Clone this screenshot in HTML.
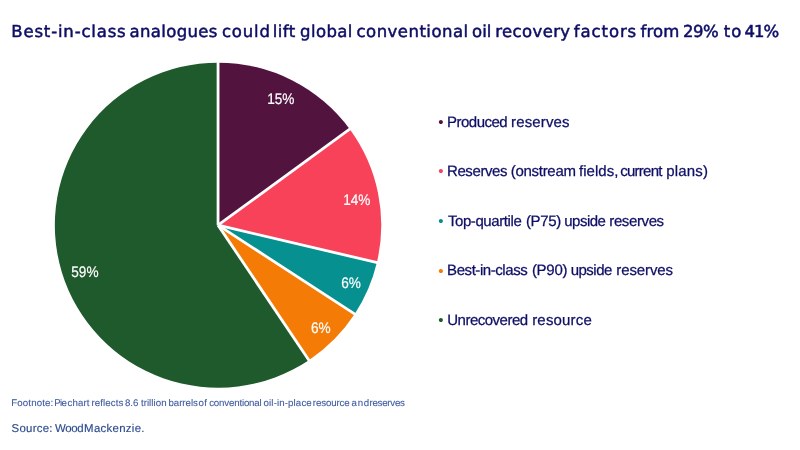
<!DOCTYPE html>
<html><head><meta charset="utf-8"><title>Pie</title>
<style>
html,body{margin:0;padding:0;background:#fff;}
body{width:800px;height:450px;position:relative;overflow:hidden;font-family:"Liberation Sans",sans-serif;}
svg{position:absolute;left:0;top:0;}
text{text-rendering:geometricPrecision;}
.title{font-family:"DejaVu Sans","Liberation Sans",sans-serif;font-size:16.5px;fill:#0e0e66;stroke:#0e0e66;stroke-width:0.5px;}
.lbl{font-family:"Liberation Sans",sans-serif;font-size:15.3px;fill:#fff;stroke:#fff;stroke-width:0.2px;text-anchor:middle;}
.leg{font-family:"Liberation Sans",sans-serif;font-size:15px;fill:#0e0e66;stroke:#0e0e66;stroke-width:0.25px;}
.bul{stroke:none;}
.foot{font-family:"Liberation Sans",sans-serif;font-size:9.7px;fill:#3f5c9e;stroke:#3f5c9e;stroke-width:0.1px;}
.src{font-family:"Liberation Sans",sans-serif;font-size:11.4px;fill:#2c4a8e;stroke:#2c4a8e;stroke-width:0.15px;}
</style></head><body>
<svg width="800" height="450" viewBox="0 0 800 450">
<text class="title" y="37"><tspan x="11.30" style="letter-spacing:0.829px">Best-in-class</tspan> <tspan x="129.50" style="letter-spacing:0.364px">analogues</tspan> <tspan x="222.00" style="letter-spacing:0.798px">could</tspan> <tspan x="272.65" style="letter-spacing:0.488px">lift</tspan> <tspan x="300.00" style="letter-spacing:0.412px">global</tspan> <tspan x="356.50" style="letter-spacing:0.485px">conventional</tspan> <tspan x="472.00" style="letter-spacing:0.060px">oil</tspan> <tspan x="495.25" style="letter-spacing:0.380px">recovery</tspan> <tspan x="573.85" style="letter-spacing:0.902px">factors</tspan> <tspan x="640.60" style="letter-spacing:0.092px">from</tspan> <tspan x="682.95" style="letter-spacing:-0.423px">29%</tspan> <tspan x="723.75" style="letter-spacing:0.981px">to</tspan> <tspan x="744.60" style="letter-spacing:-0.998px">41%</tspan></text>
<path d="M218.05,225.15 L218.05,62.65 A163.2,162.5 0 0 1 349.75,129.18 Z" fill="#52143f"/>
<path d="M218.05,225.15 L349.75,129.18 A163.2,162.5 0 0 1 376.87,262.53 Z" fill="#f7425a"/>
<path d="M218.05,225.15 L376.87,262.53 A163.2,162.5 0 0 1 354.69,314.01 Z" fill="#06908f"/>
<path d="M218.05,225.15 L354.69,314.01 A163.2,162.5 0 0 1 308.84,360.18 Z" fill="#f47b06"/>
<path d="M218.05,225.15 L308.84,360.18 A163.2,162.5 0 1 1 218.05,62.65 Z" fill="#1f5a2d"/>
<line x1="218.05" y1="225.15" x2="218.05" y2="61.03" stroke="#fff" stroke-width="2.8"/>
<line x1="218.05" y1="225.15" x2="351.06" y2="128.22" stroke="#fff" stroke-width="2.8"/>
<line x1="218.05" y1="225.15" x2="378.46" y2="262.91" stroke="#fff" stroke-width="2.8"/>
<line x1="218.05" y1="225.15" x2="356.05" y2="314.90" stroke="#fff" stroke-width="2.8"/>
<line x1="218.05" y1="225.15" x2="309.75" y2="361.54" stroke="#fff" stroke-width="2.8"/>
<text class="lbl" transform="translate(280.8,104) scale(0.89,1)">15%</text>
<text class="lbl" transform="translate(356.8,205.3) scale(0.89,1)">14%</text>
<text class="lbl" transform="translate(351,288) scale(0.89,1)">6%</text>
<text class="lbl" transform="translate(320.8,333.2) scale(0.89,1)">6%</text>
<text class="lbl" transform="translate(84.9,277) scale(0.89,1)">59%</text>
<text class="leg" y="126.6"><tspan class="bul" x="438.2" dy="0.25" style="fill:#52143f">•</tspan> <tspan dy="-0.25" x="447.00" style="letter-spacing:-0.510px">Produced</tspan> <tspan x="511.10" style="letter-spacing:0.140px">reserves</tspan></text>
<text class="leg" y="175.9"><tspan class="bul" x="438.2" dy="0.25" style="fill:#f7425a">•</tspan> <tspan dy="-0.25" x="447.00" style="letter-spacing:-0.408px">Reserves</tspan> <tspan x="510.70" style="letter-spacing:-0.278px">(onstream</tspan> <tspan x="579.00" style="letter-spacing:0.030px">fields,</tspan> <tspan x="620.20" style="letter-spacing:-0.736px">current</tspan> <tspan x="666.30" style="letter-spacing:0.148px">plans)</tspan></text>
<text class="leg" y="225.6"><tspan class="bul" x="438.2" dy="0.25" style="fill:#06908f">•</tspan> <tspan dy="-0.25" x="447.90" style="letter-spacing:-0.412px">Top-quartile</tspan> <tspan x="525.90" style="letter-spacing:-0.321px">(P75)</tspan> <tspan x="564.30" style="letter-spacing:-0.532px">upside</tspan> <tspan x="609.30" style="letter-spacing:-0.388px">reserves</tspan></text>
<text class="leg" y="275.4"><tspan class="bul" x="438.2" dy="0.25" style="fill:#f47b06">•</tspan> <tspan dy="-0.25" x="447.10" style="letter-spacing:-0.438px">Best-in-class</tspan> <tspan x="531.90" style="letter-spacing:-0.271px">(P90)</tspan> <tspan x="570.70" style="letter-spacing:-0.512px">upside</tspan> <tspan x="616.30" style="letter-spacing:-0.102px">reserves</tspan></text>
<text class="leg" y="324.5"><tspan class="bul" x="438.2" dy="0.25" style="fill:#1f5a2d">•</tspan> <tspan dy="-0.25" x="447.20" style="letter-spacing:-0.493px">Unrecovered</tspan> <tspan x="532.20" style="letter-spacing:0.183px">resource</tspan></text>
<text class="foot" y="406.2"><tspan x="11.30" style="letter-spacing:0.114px">Footnote:</tspan> <tspan x="54.30" style="letter-spacing:-0.762px">Pie</tspan> <tspan x="67.60" style="letter-spacing:0.108px">chart</tspan> <tspan x="91.40" style="letter-spacing:0.098px">reflects</tspan> <tspan x="125.00" style="letter-spacing:-0.045px">8.6</tspan> <tspan x="140.90" style="letter-spacing:0.051px">trillion</tspan> <tspan x="168.40" style="letter-spacing:-0.017px">barrels</tspan> <tspan x="198.60" style="letter-spacing:0.205px">of</tspan> <tspan x="209.20" style="letter-spacing:-0.174px">conventional</tspan> <tspan x="263.60" style="letter-spacing:0.117px">oil-in-place</tspan> <tspan x="312.80" style="letter-spacing:-0.106px">resource</tspan> <tspan x="351.60" style="letter-spacing:0.705px">and</tspan> <tspan x="369.40" style="letter-spacing:-0.235px">reserves</tspan></text>
<text class="src" y="432.4"><tspan x="11.50" style="letter-spacing:0.297px">Source:</tspan> <tspan x="55.00" style="letter-spacing:-0.311px">Wood</tspan> <tspan x="84.10" style="letter-spacing:0.312px">Mackenzie.</tspan></text>
</svg>
</body></html>
